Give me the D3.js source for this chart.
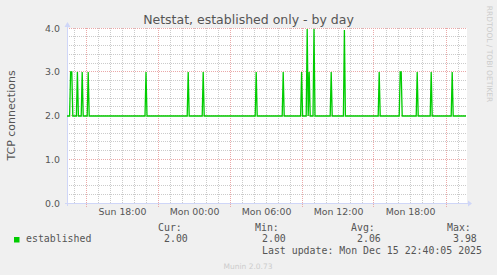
<!DOCTYPE html>
<html>
<head>
<meta charset="utf-8">
<script src="https://cdn.jsdelivr.net/npm/d3@7"></script>
<style>
  body { margin: 0; background: #f0f0f0; }
  svg { display: block; }
  text { font-family: "DejaVu Sans", sans-serif; fill: #555; }
  .mono { font-family: "DejaVu Sans Mono", monospace; }
</style>
</head>
<body>
<svg id="chart" width="497" height="275"></svg>
<script>
// data: sample times and TCP connection counts
var startTime = "2025-12-14 13:25";
var endTime = "2025-12-15 22:45";

var times = [
  "2025-12-14 13:25", "2025-12-14 13:38", "2025-12-14 13:43", "2025-12-14 13:49", "2025-12-14 13:54",
  "2025-12-14 14:12", "2025-12-14 14:17", "2025-12-14 14:22",
  "2025-12-14 14:36", "2025-12-14 14:41", "2025-12-14 14:46",
  "2025-12-14 15:06", "2025-12-14 15:11", "2025-12-14 15:16",
  "2025-12-14 19:55", "2025-12-14 20:00", "2025-12-14 20:05",
  "2025-12-14 23:26", "2025-12-14 23:31", "2025-12-14 23:36",
  "2025-12-15 00:41", "2025-12-15 00:46", "2025-12-15 00:51",
  "2025-12-15 05:06", "2025-12-15 05:11", "2025-12-15 05:16",
  "2025-12-15 07:21", "2025-12-15 07:26", "2025-12-15 07:31",
  "2025-12-15 08:53", "2025-12-15 08:58", "2025-12-15 09:03",
  "2025-12-15 09:21", "2025-12-15 09:26", "2025-12-15 09:31", "2025-12-15 09:36", "2025-12-15 09:41",
  "2025-12-15 09:55", "2025-12-15 10:00", "2025-12-15 10:05",
  "2025-12-15 11:21", "2025-12-15 11:26", "2025-12-15 11:31",
  "2025-12-15 12:27", "2025-12-15 12:32", "2025-12-15 12:37",
  "2025-12-15 15:21", "2025-12-15 15:26", "2025-12-15 15:31",
  "2025-12-15 17:06", "2025-12-15 17:11", "2025-12-15 17:16", "2025-12-15 17:21",
  "2025-12-15 18:31", "2025-12-15 18:36", "2025-12-15 18:41",
  "2025-12-15 19:41", "2025-12-15 19:46", "2025-12-15 19:51",
  "2025-12-15 21:26", "2025-12-15 21:31", "2025-12-15 21:36",
  "2025-12-15 22:40"
];

var established = [
  2, 2, 3, 3, 2,
  2, 3, 2,
  2, 3, 2,
  2, 3, 2,
  2, 3, 2,
  2, 3, 2,
  2, 3, 2,
  2, 3, 2,
  2, 3, 2,
  2, 3, 2,
  2, 3.98, 2, 3, 2,
  2, 3.97, 2,
  2, 3, 2,
  2, 3.95, 2,
  2, 3, 2,
  2, 3, 3, 2,
  2, 3, 2,
  2, 3, 2,
  2, 3, 2,
  2
];

var yTicks = [0, 1, 2, 3, 4];
var xLabels = ["2025-12-14 18:00", "2025-12-15 00:00", "2025-12-15 06:00", "2025-12-15 12:00", "2025-12-15 18:00"];
var legendNames = ["Cur:", "Min:", "Avg:", "Max:"];
var legendValues = ["2.00", "2.00", "2.06", "3.98"];
var lastUpdate = "Last update: Mon Dec 15 22:40:05 2025";

var parse = d3.timeParse("%Y-%m-%d %H:%M");

var plotLeft = 67, plotRight = 467, plotTop = 28, plotBottom = 203;

var svg = d3.select("#chart");

var x = d3.scaleTime()
  .domain([parse(startTime), parse(endTime)])
  .range([plotLeft, plotRight]);

var y = d3.scaleLinear()
  .domain([0, 4])
  .range([plotBottom, plotTop]);

var crisp = function (v) { return Math.floor(v) + 0.5 };

// canvas
svg.append("rect")
  .attr("x", plotLeft)
  .attr("y", plotTop)
  .attr("width", plotRight - plotLeft)
  .attr("height", plotBottom - plotTop)
  .attr("fill", "#ffffff");

var grid = svg.append("g").attr("shape-rendering", "crispEdges");
var minorColor = "#cbcbcb", majorColor = "#eaa8a8";

// minor grid every hour and every 0.2, major every 6 hours and every 1.0
var hours = x.ticks(d3.timeHour.every(1));
hours.forEach(function (d) {
  var major = d.getHours() % 6 === 3;
  grid.append("line")
    .attr("x1", crisp(x(d))).attr("x2", crisp(x(d)))
    .attr("y1", plotTop).attr("y2", major ? plotBottom + 4 : plotBottom)
    .attr("stroke", major ? majorColor : minorColor)
    .attr("stroke-dasharray", "1,1");
});

d3.range(1, 21).forEach(function (i) {
  var major = i % 5 === 0;
  grid.append("line")
    .attr("x1", plotLeft).attr("x2", plotRight)
    .attr("y1", crisp(y(i / 5))).attr("y2", crisp(y(i / 5)))
    .attr("stroke", major ? majorColor : minorColor)
    .attr("stroke-dasharray", "1,1");
});

// axis lines with arrows
var axisColor = "#cfd6f8";
grid.append("line")
  .attr("x1", plotLeft - 2).attr("x2", plotRight + 2)
  .attr("y1", crisp(plotBottom)).attr("y2", crisp(plotBottom))
  .attr("stroke", axisColor);
grid.append("line")
  .attr("x1", crisp(plotLeft)).attr("x2", crisp(plotLeft))
  .attr("y1", plotTop - 2).attr("y2", plotBottom + 3)
  .attr("stroke", axisColor);

svg.append("path")
  .attr("d", "M" + (plotRight + 1) + "," + (plotBottom - 2.5) + "L" + (plotRight + 5) + "," + (plotBottom + 0.5) + "L" + (plotRight + 1) + "," + (plotBottom + 3.5) + "Z")
  .attr("fill", axisColor);
svg.append("path")
  .attr("d", "M" + (plotLeft - 2.5) + "," + (plotTop - 1) + "L" + (plotLeft + 0.5) + "," + (plotTop - 6) + "L" + (plotLeft + 3.5) + "," + (plotTop - 1) + "Z")
  .attr("fill", axisColor);

// series
var points = times.map(function (t, i) {
  return { t: parse(t), v: established[i] };
});

var line = d3.line()
  .x(function (d) { return x(d.t) })
  .y(function (d) { return Math.round(y(d.v)) });

svg.append("path")
  .datum(points)
  .attr("d", line)
  .attr("fill", "none")
  .attr("stroke", "#00cc00")
  .attr("stroke-width", 1.3);

// tick labels
var xAxis = d3.axisBottom(x)
  .tickValues(xLabels.map(parse))
  .tickSize(0)
  .tickPadding(0)
  .tickFormat(d3.timeFormat("%a %H:%M"));

var gx = svg.append("g")
  .attr("transform", "translate(0,208)")
  .call(xAxis);
gx.select(".domain").remove();
gx.selectAll("text")
  .attr("dy", "0.71em")
  .attr("y", 0)
  .style("font-family", "DejaVu Sans, sans-serif")
  .style("font-size", "9.4px")
  .attr("fill", "#555");

var yAxis = d3.axisLeft(y)
  .tickValues(yTicks)
  .tickSize(0)
  .tickPadding(0)
  .tickFormat(d3.format(".1f"));

var gy = svg.append("g")
  .attr("transform", "translate(60,0)")
  .call(yAxis);
gy.select(".domain").remove();
gy.selectAll("text")
  .style("font-family", "DejaVu Sans, sans-serif")
  .style("font-size", "9.4px")
  .attr("fill", "#555");

// titles
svg.append("text")
  .attr("x", 248.5)
  .attr("y", 24)
  .attr("text-anchor", "middle")
  .style("font-size", "12.5px")
  .text("Netstat, established only - by day");

svg.append("text")
  .attr("transform", "translate(15," + ((plotTop + plotBottom) / 2) + ") rotate(-90)")
  .attr("text-anchor", "middle")
  .style("font-size", "11px")
  .text("TCP connections");

svg.append("text")
  .attr("transform", "translate(487,54) rotate(90)")
  .attr("text-anchor", "middle")
  .style("font-size", "7.5px")
  .style("fill", "#cccccc")
  .text("RRDTOOL / TOBI OETIKER");

// legend
svg.append("rect")
  .attr("x", 14).attr("y", 237)
  .attr("width", 5.5).attr("height", 5.5)
  .attr("fill", "#00cc00");

svg.append("text")
  .attr("class", "mono")
  .attr("x", 26).attr("y", 242)
  .style("font-size", "9.9px")
  .text("established");

var nameX = [158, 255, 351, 447];
var valueX = [164, 262, 357, 453];

legendNames.forEach(function (name, i) {
  svg.append("text")
    .attr("class", "mono")
    .attr("x", nameX[i]).attr("y", 231)
    .style("font-size", "9.9px")
    .text(name);
  svg.append("text")
    .attr("class", "mono")
    .attr("x", valueX[i]).attr("y", 242)
    .style("font-size", "9.9px")
    .text(legendValues[i]);
});

svg.append("text")
  .attr("class", "mono")
  .attr("x", 262).attr("y", 254)
  .style("font-size", "9.9px")
  .text(lastUpdate);

svg.append("text")
  .attr("x", 248)
  .attr("y", 269)
  .attr("text-anchor", "middle")
  .style("font-size", "7.5px")
  .style("fill", "#cccccc")
  .text("Munin 2.0.73");
</script>
</body>
</html>
